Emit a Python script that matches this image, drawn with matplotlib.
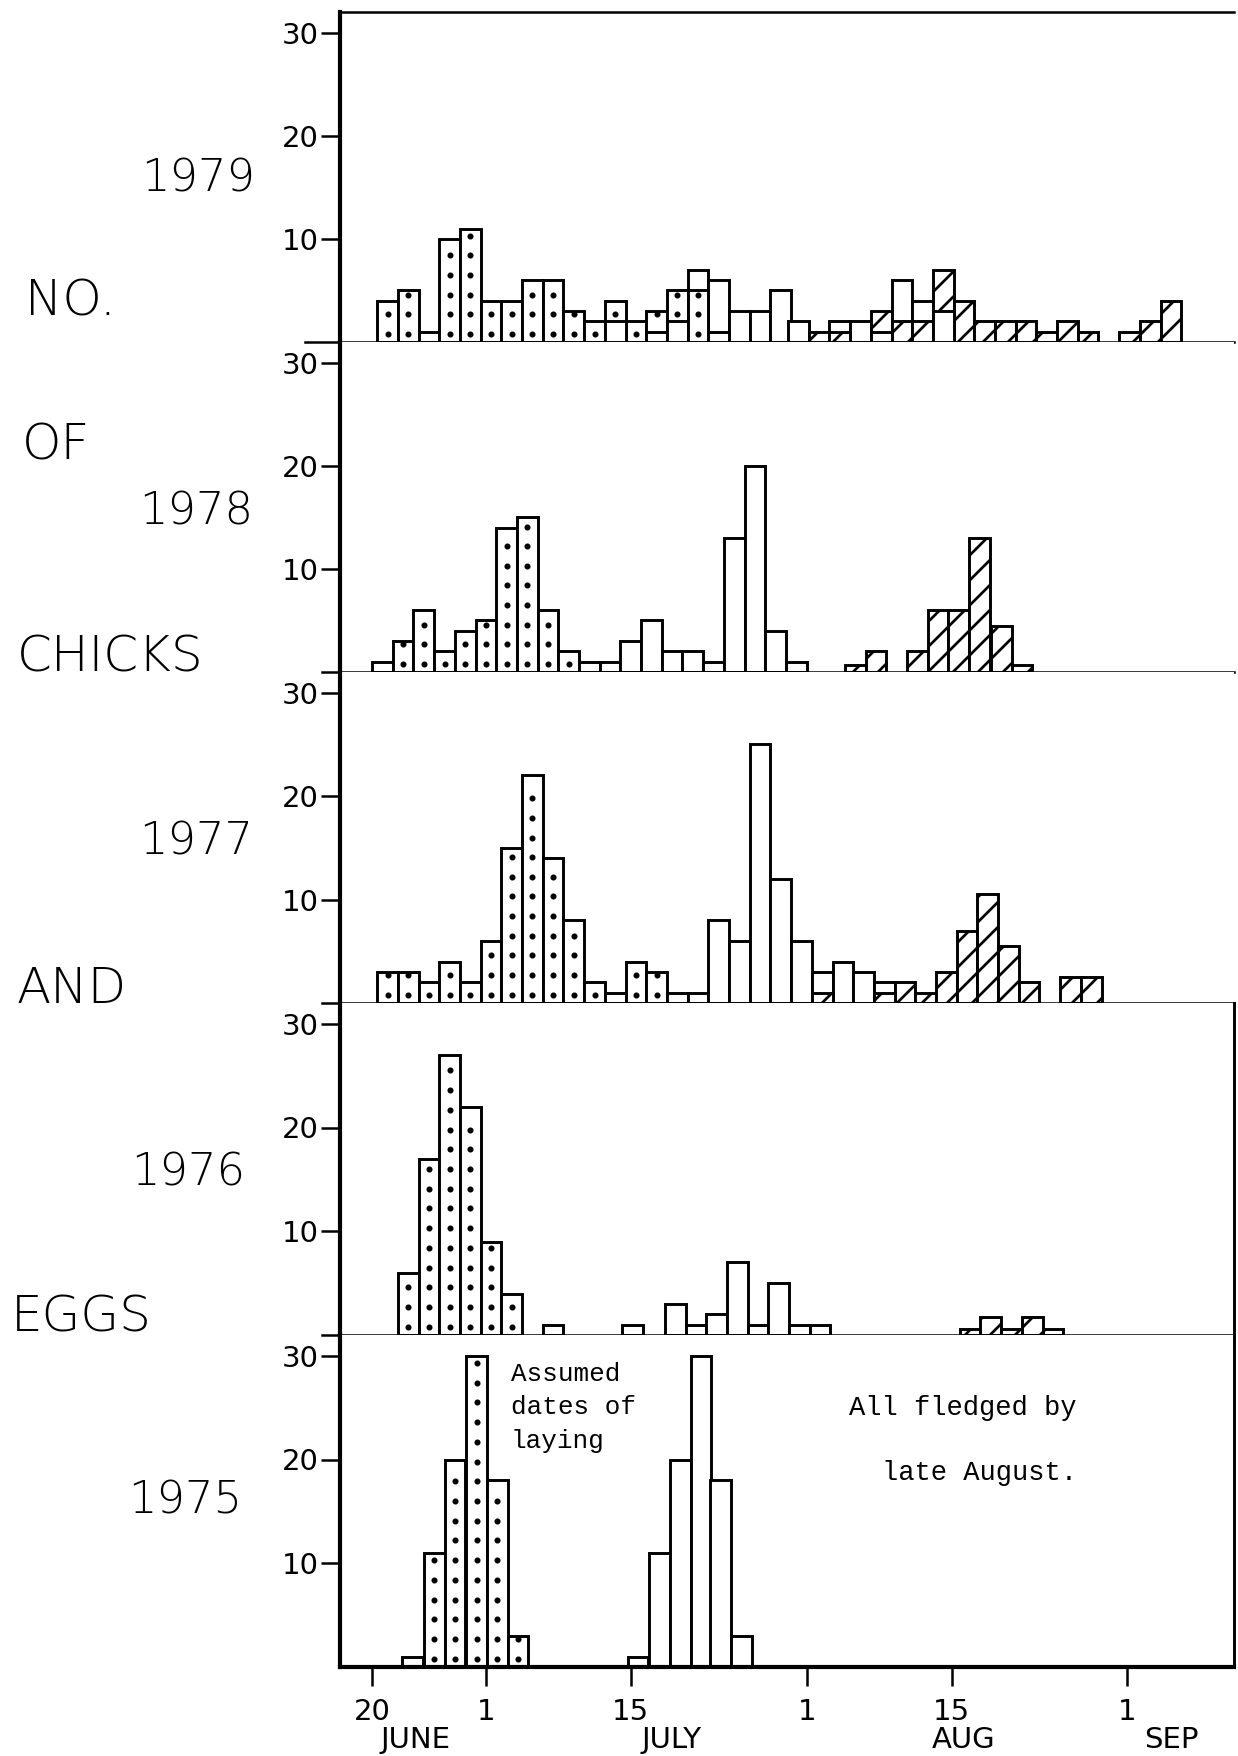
import numpy as np
import matplotlib
matplotlib.use("Agg")
import matplotlib.pyplot as plt
from matplotlib.lines import Line2D

# x = days after 1 July (centre of each 2-day bar); three kinds of bar:
# dotted, open and hatched, drawn over each other from the baseline
days_1979 = [-9.5, -7.5, -5.5, -3.5, -1.5, 0.5, 2.5, 4.5, 6.5, 8.5, 10.5, 12.5,
             14.5, 16.5, 18.5, 20.5, 22.5, 24.5, 26.5, 28.5, 30.2, 32.2, 34.2,
             36.2, 38.2, 40.2, 42.2, 44.2, 46.2, 48.2, 50.2, 52.2, 54.2, 56.2,
             58.2, 62.2, 64.2, 66.2]
dotted_1979 = [4, 5, 1, 10, 11, 4, 4, 6, 6, 3, 2, 4, 2, 3, 5, 5, 1,
               0, 0, 0, 0, 0, 0, 0, 0, 0, 0, 0, 0, 0, 0, 0, 0, 0, 0, 0, 0, 0]
open_1979 = [0, 0, 0, 0, 0, 0, 0, 0, 0, 0, 0, 2, 0, 1, 2, 7, 6, 3, 3, 5, 2,
             1, 2, 2, 1, 6, 4, 3, 0, 0, 0, 0, 0, 0, 0, 0, 0, 0]
hatched_1979 = [0, 0, 0, 0, 0, 0, 0, 0, 0, 0, 0, 0, 0, 0, 0, 0, 0, 0, 0, 0, 0,
                1, 1, 0, 3, 2, 2, 7, 4, 2, 2, 2, 1, 2, 1, 1, 2, 4]

days_1978 = [-10, -8, -6, -4, -2, 0, 2, 4, 6, 8, 10, 12, 14, 16, 18, 20, 22,
             24, 26, 28, 30, 35.7, 37.7, 41.7, 43.7, 45.7, 47.7, 49.8, 51.8]
dotted_1978 = [1, 3, 6, 2, 4, 5, 14, 15, 6, 2, 1,
               0, 0, 0, 0, 0, 0, 0, 0, 0, 0, 0, 0, 0, 0, 0, 0, 0, 0]
open_1978 = [0, 0, 0, 0, 0, 0, 0, 0, 0, 0, 0, 1, 3, 5, 2, 2, 1, 13, 20, 4, 1,
             0, 0, 0, 0, 0, 0, 0, 0]
hatched_1978 = [0] * 21 + [0.7, 2, 2, 6, 6, 13, 4.5, 0.7]

days_1977 = [-9.5, -7.5, -5.5, -3.5, -1.5, 0.5, 2.5, 4.5, 6.5, 8.5, 10.5, 12.5,
             14.5, 16.5, 18.5, 20.5, 22.5, 24.5, 26.5, 28.5, 30.5, 32.5, 34.5,
             36.5, 38.5, 40.5, 42.5, 44.5, 46.5, 48.5, 50.5, 52.5, 56.5, 58.5]
dotted_1977 = [3, 3, 2, 4, 2, 6, 15, 22, 14, 8, 2, 1, 4, 3, 1] + [0] * 19
open_1977 = [0] * 15 + [1, 8, 6, 25, 12, 6, 3, 4, 3, 2] + [0] * 9
hatched_1977 = [0] * 21 + [1, 0, 0, 1, 2, 1, 3, 7, 10.5, 5.5, 2, 2.5, 2.5]

days_1976 = [-7.5, -5.5, -3.5, -1.5, 0.5, 2.5, 6.5, 14.2, 18.3, 20.3, 22.3,
             24.3, 26.3, 28.3, 30.3, 32.3, 46.8, 48.8, 50.8, 52.8, 54.8]
dotted_1976 = [6, 17, 27, 22, 9, 4, 1, 1] + [0] * 13
open_1976 = [0] * 8 + [3, 1, 2, 7, 1, 5, 1, 1] + [0] * 5
hatched_1976 = [0] * 16 + [0.6, 1.7, 0.6, 1.7, 0.6]

days_1975 = [-7.1, -5, -3, -0.9, 1.1, 3.1, 14.7, 16.8, 18.8, 20.8, 22.7, 24.7]
dotted_1975 = [1, 11, 20, 30, 18, 3, 0, 0, 0, 0, 0, 0]
open_1975 = [0, 0, 0, 0, 0, 0, 1, 11, 20, 30, 18, 3]
hatched_1975 = [0] * 12

years = [1979, 1978, 1977, 1976, 1975]
all_days = [days_1979, days_1978, days_1977, days_1976, days_1975]
all_dotted = [dotted_1979, dotted_1978, dotted_1977, dotted_1976, dotted_1975]
all_open = [open_1979, open_1978, open_1977, open_1976, open_1975]
all_hatched = [hatched_1979, hatched_1978, hatched_1977, hatched_1976, hatched_1975]

tick_days = [-11, 0, 14, 31, 45, 62]
tick_labels = ["20", "1", "15", "1", "15", "1"]
months = ["JUNE", "JULY", "AUG", "SEP"]
month_days = [-6.8, 17.9, 46.2, 66.2]
side_words = ["NO.", "OF", "CHICKS", "AND", "EGGS"]

plt.rcParams['hatch.linewidth'] = 1.3
W, H, DPI = 1238, 1756, 150
fig = plt.figure(figsize=(W / DPI, H / DPI), dpi=DPI)

edges = [12, 342, 672, 1003, 1335, 1667]
X0, X1 = 340, 1234
thin = ['DejaVu Sans']


def draw_bars(ax, days, dotted, opened, hatched):
    for i, d in enumerate(days):
        parts = [(dotted[i], 'dot'), (opened[i], 'open'), (hatched[i], 'hatch')]
        parts = sorted([p for p in parts if p[0] > 0], key=lambda p: -p[0])
        for rank, (h, kind) in enumerate(parts):
            z = 2 + rank
            ax.bar(d, h, width=2, color='white', edgecolor='black', linewidth=1.4,
                   hatch='//' if kind == 'hatch' else None, zorder=z)
            if kind == 'dot':
                ys = np.arange(0.8, h - 0.3, 1.9)
                ax.plot([d] * len(ys), ys, 'k.', ms=3.8, zorder=z + 0.5)


for i, year in enumerate(years):
    top, bot = edges[i], edges[i + 1]
    ax = fig.add_axes([X0 / W, 1 - bot / H, (X1 - X0) / W, (bot - top) / H])
    draw_bars(ax, all_days[i], all_dotted[i], all_open[i], all_hatched[i])
    ax.set_xlim(-14.1, 72.3)
    ax.set_ylim(0, 32)
    ax.set_yticks([10, 20, 30])
    ax.tick_params(axis='y', direction='out', length=9, width=1.2, pad=1,
                   labelsize=14)
    ax.spines['left'].set_linewidth(2.0)
    ax.spines['bottom'].set_linewidth(1.2)
    ax.spines['top'].set_visible(i == 0)
    ax.spines['top'].set_linewidth(1.2)
    ax.spines['right'].set_visible(i >= 3)
    ax.spines['right'].set_linewidth(1.4)
    if i < 4:
        ax.set_xticks([])
        # short stub of the separator line left of the axis
        fig.add_artist(Line2D([(305 if i == 0 else 322) / W, X0 / W],
                              [1 - bot / H, 1 - bot / H], color='black', lw=1.2))
    else:
        ax.spines['bottom'].set_linewidth(2.0)
        ax.set_xticks(tick_days)
        ax.set_xticklabels(tick_labels)
        ax.tick_params(axis='x', direction='out', length=9, width=1.2, pad=6,
                       labelsize=14)
        for m, md in zip(months, month_days):
            ax.text(md, -0.22, m, transform=ax.get_xaxis_transform(),
                    ha='center', va='center', fontsize=14)
        ax.text(2.4, 29.4, "Assumed\ndates of\nlaying", family='Liberation Mono',
                fontsize=12.5, va='top', ha='left', linespacing=1.5)
        ax.text(35.1, 24.3, "All fledged by", family='Liberation Mono',
                fontsize=13, va='baseline', ha='left')
        ax.text(38.3, 18.0, "late August.", family='Liberation Mono',
                fontsize=13, va='baseline', ha='left')

# year labels and the vertical caption words
year_xy = [(198, 179), (196, 512), (196, 842), (188, 1173), (185, 1501)]
for year, (x, y) in zip(years, year_xy):
    fig.text(x / W, 1 - y / H, str(year), ha='center', va='center',
             family=thin, fontweight=200, fontsize=21.5)

word_xy = [(25, 302), (22, 445), (17, 657), (17, 989), (11, 1317)]
for word, (x, y) in zip(side_words, word_xy):
    fig.text(x / W, 1 - y / H, word, ha='left', va='center',
             family=thin, fontweight=200, fontsize=24)

fig.savefig("out.png", dpi=DPI)
